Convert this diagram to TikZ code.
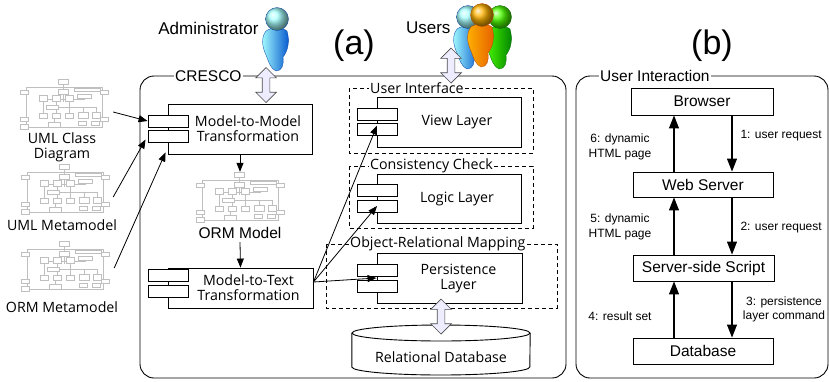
\documentclass[tikz,border=0pt]{standalone}
\usepackage{fontspec}
\setmainfont{Liberation Sans}
\newfontfamily\humfont{Open Sans}
\usetikzlibrary{arrows.meta,shapes.arrows,calc}

\tikzset{
  % fonts
  fbig/.style={font=\fontsize{34}{36}\selectfont},
  factor/.style={font=\fontsize{17}{19}\selectfont},
  fhead/.style={font=\fontsize{15.5}{17}\selectfont},
  fhum/.style={font=\humfont\fontsize{14.2}{15}\selectfont},
  fsmall/.style={font=\fontsize{12}{15}\selectfont},
  % boxes
  comp/.style={draw, fill=white, line width=0.9pt, inner sep=0pt},
  tab/.style={draw, fill=white, line width=0.9pt, minimum width=40pt, minimum height=12pt, inner sep=0pt},
  flowbox/.style={draw, fill=white, line width=0.9pt, inner sep=0pt, fhead},
  group/.style={draw, dashed, dash pattern=on 4pt off 3pt, line width=0.9pt},
  grouplabel/.style={fill=white, inner xsep=1pt, inner ysep=0pt, anchor=west, fhum},
  frame/.style={draw, rounded corners=14pt, line width=0.9pt},
  framelabel/.style={fill=white, inner xsep=1pt, inner ysep=0pt, anchor=west, fhead},
  conn/.style={line width=0.8pt, -{Triangle[length=9pt,width=7pt]}},
  flow/.style={line width=1.1pt, -{Triangle[length=13pt,width=10pt]}},
  dblarrow/.style={shape=double arrow, shape border rotate=90, draw=gray!60!black,
    fill=blue!7, line width=0.7pt, inner sep=3.5pt, minimum height=35pt,
    double arrow head extend=6.5pt},
  thumbarea/.style={minimum width=88pt, minimum height=52pt, inner sep=0pt},
  thumbln/.style={draw=gray!50, line width=0.5pt},
  thumbbx/.style={draw=gray!50, fill=white, line width=0.5pt},
  % miniature class diagram
  thumb/.pic={
    \draw[thumbln] (-38,-18) rectangle (38,22);
    \draw[thumbln] (-1,-24) -- (-1,-3);
    \draw[thumbln] (-21,-6) -- (-21,10) (-8,-6) -- (-8,10) (5,-6) -- (5,10)
                   (-21,-6) -- (21,-6) (-13,2) -- (19,2) (19,2) -- (19,8)
                   (32,2) -- (32,8) (19,2) -- (32,2) (-10,13) -- (-10,18);
    \draw[thumbbx] (-6,-26) rectangle (4,-21);
    \draw[thumbbx] (-6,-16) rectangle (4,-11);
    \draw[thumbbx] (10,-17) rectangle (36,-14);
    \draw[thumbbx] (-44,-15) rectangle (-36,-11);
    \draw[thumbbx] (36,-15) rectangle (44,-11);
    \draw[thumbbx] (-44,12) rectangle (-36,16);
    \draw[thumbbx] (36,12) rectangle (44,16);
    \draw[thumbbx] (-44,19) rectangle (-36,24);
    \draw[thumbbx] (-25,-10) rectangle (-17,-4);
    \draw[thumbbx] (-12,-10) rectangle (-4,-4);
    \draw[thumbbx] (1,-10) rectangle (9,-4);
    \draw[thumbbx] (13,-11) rectangle (27,-7);
    \draw[thumbbx] (-18,0) rectangle (-6,4);
    \draw[thumbbx] (-25,8) rectangle (-17,13);
    \draw[thumbbx] (-12,8) rectangle (-4,13);
    \draw[thumbbx] (1,8) rectangle (9,13);
    \draw[thumbbx] (14,7) rectangle (24,13);
    \draw[thumbbx] (28,7) rectangle (36,13);
    \draw[thumbbx] (-16,17) rectangle (-4,22);
    \draw[thumbbx] (14,16) rectangle (22,20);
    \draw[thumbbx] (27,16) rectangle (35,20);
  },
}

% a stylised person: head centre, light and dark tone
\newcommand\drawperson[4]{%
  \begin{scope}[shift={(#1,#2)}]
    \shade[left color=#3, right color=#4, draw=#4!80!black, line width=0.3pt]
      (-11,12) .. controls (-16,18) and (-15,28) .. (-11,36)
      .. controls (-8,44) and (-6,50) .. (-1,52)
      .. controls (5,52) and (7,46) .. (6,38)
      .. controls (11,32) and (13,22) .. (10,12)
      .. controls (5,8) and (-6,8) .. cycle;
    \shade[ball color=#3, draw=#4!80!black, line width=0.3pt] (0,0) circle (11.5);
  \end{scope}}

\begin{document}
\begin{tikzpicture}[x=1pt, y=-1pt]
\useasboundingbox (0,0) rectangle (829,381);

% ---------- actors ----------
\drawperson{277}{19}{cyan!35}{blue!60!cyan!80!black}
\drawperson{468}{17}{cyan!35}{blue!60!cyan!80!black}
\drawperson{500}{17}{green!70!yellow}{green!50!black}
\drawperson{482}{15}{orange!60!yellow}{orange!80!red!90!black}
\node[factor, anchor=east] (admin) at (262,28) {Administrator};
\node[factor, anchor=east] (users) at (454,28) {Users};
\node[fbig] (lbla) at (354,46) {(a)};
\node[fbig] (lblb) at (712,46) {(b)};

% ---------- panel (a): CRESCO ----------
\draw[frame] (140,76) rectangle (566,378);
\node[framelabel] (cresco) at (174,76) {CRESCO};

% dashed layer groups
\draw[group] (349,88) rectangle (533,153);
\node[grouplabel] (gui) at (369,88) {User Interface};
\draw[group] (349,166) rectangle (533,228);
\node[grouplabel] (gcc) at (369,166) {Consistency Check};
\draw[group] (326,244) rectangle (557,308);
\node[grouplabel] (gorm) at (349,244) {Object-Relational Mapping};

% transformation components
\node[comp, minimum width=144pt, minimum height=50pt,
  label={[fhum, align=center, xshift=8pt]center:Model-to-Model\\Transformation}] (m2m) at (240,129) {};
\node[tab] (m2mt1) at (168,121) {};
\node[tab] (m2mt2) at (168,136.5) {};

\node[comp, minimum width=145pt, minimum height=40pt,
  label={[fhum, align=center, xshift=8pt]center:Model-to-Text\\Transformation}] (m2t) at (240.5,288) {};
\node[tab] (m2tt1) at (168,275.5) {};
\node[tab] (m2tt2) at (168,291.5) {};

% generated layers
\node[comp, minimum width=144pt, minimum height=50pt,
  label={[fhum, xshift=8pt]center:View Layer}] (view) at (449,122) {};
\node[tab] (viewt1) at (377,114) {};
\node[tab] (viewt2) at (377,129.5) {};

\node[comp, minimum width=144pt, minimum height=49pt,
  label={[fhum, xshift=8pt]center:Logic Layer}] (logic) at (449,198.5) {};
\node[tab] (logict1) at (377,190) {};
\node[tab] (logict2) at (377,206) {};

\node[comp, minimum width=145pt, minimum height=50pt,
  label={[fhum, align=center, xshift=9pt]center:Persistence\\Layer}] (pers) at (449.5,278) {};
\node[tab] (perst1) at (377,270) {};
\node[tab] (perst2) at (377,286) {};

% relational database cylinder
\node[minimum width=178pt, minimum height=50pt, inner sep=0pt] (db) at (441,350) {};
\draw[line width=0.9pt, fill=white] (db.west |- 0,333) -- (db.west |- 0,367)
  arc[start angle=180, end angle=360, x radius=89pt, y radius=8pt]
  -- (db.east |- 0,333);
\draw[line width=0.9pt, fill=white] (441,333) ellipse[x radius=89pt, y radius=8pt];
\node[fhum] (dbtext) at (441,357) {Relational Database};

% models
\pic at (64,105) {thumb};
\node[thumbarea] (uml) at (64,105) {};
\node[fhum, align=center] (umllbl) at (62,147) {UML Class\\Diagram};
\pic at (65,190) {thumb};
\node[thumbarea] (umlmeta) at (65,190) {};
\node[fhum] (umlmetalbl) at (62,225) {UML Metamodel};
\pic at (65,267) {thumb};
\node[thumbarea] (ormmeta) at (65,267) {};
\node[fhum] (ormmetalbl) at (62,307) {ORM Metamodel};
\pic at (240,198) {thumb};
\node[thumbarea] (orm) at (240,198) {};
\node[fhead] (ormlbl) at (240,233) {ORM Model};

% hollow double arrows
\node[dblarrow] (adminarr) at (266,85) {};
\node[dblarrow] (usersarr) at (451,65.5) {};
\node[dblarrow] (dbarr) at (441,316.5) {};

% transformation connectors
\draw[conn] ($(uml.east)+(5,7)$) -- (m2mt1.west);
\draw[conn] ($(umlmeta.east)+(4,7)$) -- ($(m2mt2.west)+(-2,3)$);
\draw[conn] ($(ormmeta.east)+(5,1)$) -- ($(m2m.south west)+(-2,-2)$);
\draw[conn] (m2m.south) -- (orm.north);
\draw[conn] (ormlbl.south) -- (m2t.north);
\draw[conn] ($(m2t.east)+(0,-6)$) -- ($(viewt2.center)+(0,-4)$);
\draw[conn] ($(m2t.east)+(0,-6)$) -- (logict2.center);
\draw[conn] ($(m2t.east)+(0,-6)$) -- (pers.west);

% ---------- panel (b): user interaction ----------
\draw[frame] (576,76) rectangle (828,378);
\node[framelabel] (uilbl) at (599,76) {User Interaction};

\node[flowbox, minimum width=142pt, minimum height=27pt] (browser) at (702,101.5) {Browser};
\node[flowbox, minimum width=140pt, minimum height=25pt] (web) at (703,184.5) {Web Server};
\node[flowbox, minimum width=141pt, minimum height=26pt] (script) at (703.5,268) {Server-side Script};
\node[flowbox, minimum width=140pt, minimum height=26pt] (database) at (703,351) {Database};

\draw[flow] (browser.south -| 732,0) -- (web.north -| 732,0);
\draw[flow] (web.south -| 732,0) -- (script.north -| 732,0);
\draw[flow] (script.south -| 732,0) -- (database.north -| 732,0);
\draw[flow] (database.north -| 674,0) -- (script.south -| 674,0);
\draw[flow] (script.north -| 674,0) -- (web.south -| 674,0);
\draw[flow] (web.north -| 674,0) -- (browser.south -| 674,0);

\node[fsmall, anchor=west] (s1) at (737,136) {1: user request};
\node[fsmall, anchor=west] (s2) at (737,228) {2: user request};
\node[fsmall, align=center, font=\fontsize{12}{14}\selectfont] (s3) at (784,309) {3: persistence\\layer command};
\node[fsmall] (s4) at (620,316) {4: result set};
\node[fsmall, align=center] (s5) at (620,227) {5: dynamic\\HTML page};
\node[fsmall, align=center] (s6) at (620,147) {6: dynamic\\HTML page};
\end{tikzpicture}
\end{document}
